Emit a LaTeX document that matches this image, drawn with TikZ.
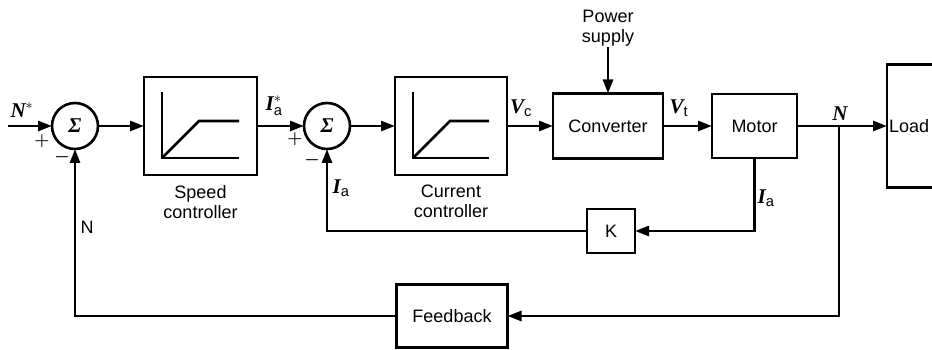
\documentclass[tikz,border=0pt]{standalone}
\usepackage{amsmath}
\usepackage{fontspec}
\setmainfont{Liberation Sans}
\newfontfamily\varfont{Liberation Serif}
\usetikzlibrary{arrows.meta,positioning,calc}
\newcommand{\vsym}[1]{{\varfont\bfseries\itshape #1}}
% limiter curve drawn inside a controller box
\newcommand{\ramp}[1]{%
  \draw[curve] ($(#1.north west)+(18,-15)$) |- ($(#1.south east)+(-18,17)$);
  \draw[curve] ($(#1.south west)+(18,17)$) -- ++(37,37) -- ($(#1.east)+(-18,5)$);}

\begin{document}
\begin{tikzpicture}[x=1pt,y=1pt,
  font=\fontsize{18}{20}\selectfont,
  box/.style={draw,line width=2.6pt,inner sep=2pt,outer sep=0pt},
  sumpt/.style={draw,circle,line width=2.6pt,minimum size=46pt,inner sep=0pt,outer sep=0pt,
    font=\fontsize{21}{21}\selectfont},
  sig/.style={-{Triangle[length=14pt,width=10pt]},line width=2.8pt},
  var/.style={font=\fontsize{21}{22}\selectfont,inner sep=0pt},
  pm/.style={font=\fontsize{19}{19}\selectfont\boldmath,inner sep=0pt},
  curve/.style={line width=2.6pt}]
\useasboundingbox (0,0) rectangle (932,-350);
% forward path
\node[sumpt] (sum1) at (75,-126) {\vsym{Σ}};
\node[box,minimum width=113pt,minimum height=98pt,right=46pt of sum1] (speed) {};
\node[sumpt,right=47pt of speed] (sum2) {\vsym{Σ}};
\node[box,minimum width=112pt,minimum height=98pt,right=45pt of sum2] (curr) {};
\node[box,minimum width=110pt,minimum height=65pt,right=46pt of curr] (conv) {Converter};
\node[box,minimum width=85pt,minimum height=64pt,right=49pt of conv] (motor) {Motor};
\node[box,minimum width=70pt,minimum height=123pt,right=90pt of motor] (load) {};
\node[anchor=west,inner sep=2pt] (loadtxt) at (load.west) {Load};
\ramp{speed}
\ramp{curr}
\node[below=9pt of speed,align=center,inner sep=1pt] (speedtxt) {Speed\\controller};
\node[below=9pt of curr,align=center,inner sep=1pt] (currtxt) {Current\\controller};
\node[above=46pt of conv,align=center,inner sep=1pt] (ps) {Power\\supply};
% feedback blocks
\node[box,minimum width=48pt,minimum height=44pt] (K) at (611,-231) {K};
\node[box,minimum width=111pt,minimum height=63pt] (fb) at (452,-316) {Feedback};
\coordinate (in) at (8,-126);
\coordinate (br) at ($(motor.east)+(42,0)$);
% connectors
\draw[sig] (in) -- (sum1);
\draw[sig] (sum1) -- (speed);
\draw[sig] (speed) -- (sum2);
\draw[sig] (sum2) -- (curr);
\draw[sig] (curr) -- (conv);
\draw[sig] (ps) -- (conv);
\draw[sig] (conv) -- (motor);
\draw[sig] (motor) -- (load);
\draw[sig] (motor.south) |- (K.east);
\draw[sig] (K.west) -| (sum2.south);
\draw[sig] (br) |- (fb.east);
\draw[sig] (fb.west) -| (sum1.south);
% signal labels
\node[var] (lNref) at (22,-110) {\vsym{N}$^{*}$};
\node[pm] (p1) at (42,-141) {$+$};
\node[pm] (m1) at (62,-157) {$-$};
\node[var] (lIref) at (274,-106) {\vsym{I}$^{*}_{\text{a}}$};
\node[pm] (p2) at (295,-139) {$+$};
\node[pm] (m2) at (312,-160) {$-$};
\node[var] (lIa1) at (341,-188) {\vsym{I}$_{\text{a}}$};
\node[var] (lVc) at (521,-108) {\vsym{V}$_{\text{c}}$};
\node[var] (lVt) at (679,-108) {\vsym{V}$_{\text{t}}$};
\node[var] (lN) at (840,-114) {\vsym{N}};
\node[var] (lIa2) at (766,-198) {\vsym{I}$_{\text{a}}$};
\node[inner sep=0pt] (lNfb) at (87,-227) {N};
\end{tikzpicture}
\end{document}
